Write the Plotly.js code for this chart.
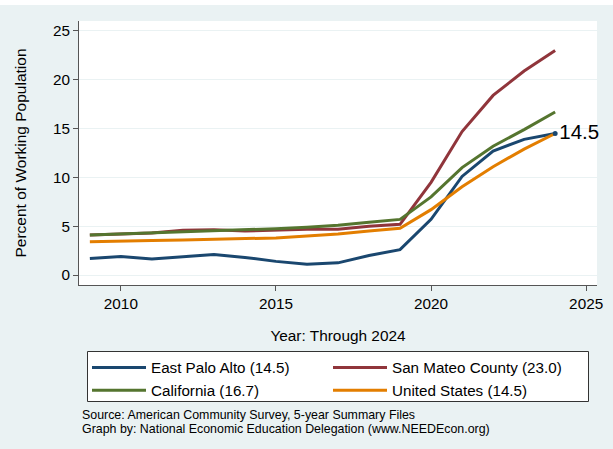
<!DOCTYPE html>
<html>
<head>
<meta charset="utf-8">
<script src="https://cdn.plot.ly/plotly-3.0.1.min.js"></script>
<style>html,body{margin:0;padding:0;background:#eaf2f3;}#chart{width:613px;height:449px;}</style>
</head>
<body>
<div id="chart"></div>
<script>
const years = [2009,2010,2011,2012,2013,2014,2015,2016,2017,2018,2019,2020,2021,2022,2023,2024];
const eastPaloAlto = [1.7,1.9,1.65,1.9,2.1,1.8,1.4,1.1,1.25,2.0,2.6,5.7,10.1,12.7,13.9,14.5];
const sanMateo = [4.1,4.2,4.3,4.6,4.65,4.5,4.6,4.7,4.7,5.0,5.2,9.5,14.7,18.4,20.9,23.0];
const california = [4.1,4.2,4.3,4.4,4.5,4.6,4.75,4.9,5.1,5.4,5.7,8.0,11.0,13.2,14.9,16.7];
const unitedStates = [3.4,3.5,3.55,3.6,3.65,3.7,3.8,4.0,4.2,4.5,4.8,6.7,9.05,11.1,12.9,14.5];
const seriesNames = ["East Palo Alto (14.5)","San Mateo County (23.0)","California (16.7)","United States (14.5)"];
const xTicks = [2010,2015,2020,2025];
const yTicks = [0,5,10,15,20,25];
const sourceLines = ["Source: American Community Survey, 5-year Summary Files","Graph by: National Economic Education Delegation (www.NEEDEcon.org)"];

const font = "Liberation Sans, Arial, Helvetica, sans-serif";
const last = years.length - 1;

const traces = [
  {x: years, y: eastPaloAlto, name: seriesNames[0], mode: "lines", line: {color: "#1a476f", width: 3}},
  {x: years, y: sanMateo, name: seriesNames[1], mode: "lines", line: {color: "#90353b", width: 3}},
  {x: years, y: california, name: seriesNames[2], mode: "lines", line: {color: "#55752f", width: 3}},
  {x: years, y: unitedStates, name: seriesNames[3], mode: "lines", line: {color: "#e37e00", width: 3}},
  {x: [years[last]], y: [eastPaloAlto[last]], mode: "markers+text", showlegend: false, cliponaxis: false,
   marker: {size: 5, color: "#1a476f"}, text: [eastPaloAlto[last].toFixed(1)],
   textposition: "middle right", textfont: {family: font, size: 20.5, color: "#000"}}
];

const W = 518, H = 264, L = 79, B = 285;
const px = v => (v - L) / W;
const py = v => (B - v) / H;

const layout = {
  width: 613, height: 449,
  margin: {l: 79, r: 16, t: 21, b: 164, autoexpand: false},
  paper_bgcolor: "#eaf2f3", plot_bgcolor: "#ffffff",
  font: {family: font, size: 15, color: "#000"},
  showlegend: true,
  xaxis: {range: [2008.65, 2025.35], tickvals: xTicks, ticktext: xTicks.map(String),
    showgrid: false, zeroline: false, showline: true, linecolor: "#555", linewidth: 1,
    ticks: "outside", ticklen: 5, tickcolor: "#555", tickfont: {size: 15.3},
    title: {text: "Year: Through 2024", font: {size: 15.4}, standoff: 18}, automargin: false},
  yaxis: {range: [-1.02, 26.02], tickvals: yTicks, ticktext: yTicks.map(String),
    showgrid: true, gridcolor: "#eaf2f3", gridwidth: 1, zeroline: false,
    showline: true, linecolor: "#555", linewidth: 1,
    ticks: "outside", ticklen: 5, tickcolor: "#555", tickfont: {size: 15.3},
    title: {text: "Percent of Working Population", font: {size: 15.5}, standoff: 22}, automargin: false},
  legend: {orientation: "h", x: px(87), xanchor: "left", y: py(351), yanchor: "top",
    bgcolor: "rgba(0,0,0,0)", borderwidth: 0,
    font: {size: 15.2}, entrywidth: 172, entrywidthmode: "pixels", itemwidth: 54,
    traceorder: "normal"},
  annotations: [
    {xref: "paper", yref: "paper", x: px(80), y: py(414.5), xanchor: "left", yanchor: "middle",
     text: sourceLines[0], showarrow: false, font: {size: 12.4}},
    {xref: "paper", yref: "paper", x: px(80), y: py(428.5), xanchor: "left", yanchor: "middle",
     text: sourceLines[1], showarrow: false, font: {size: 12.4}}
  ],
  shapes: [
    {type: "rect", xref: "paper", yref: "paper", x0: px(0), x1: px(613), y0: py(5), y1: py(0),
     fillcolor: "#ffffff", line: {width: 0}, layer: "above"},
    {type: "rect", xref: "paper", yref: "paper", x0: px(87.5), x1: px(588.5), y0: py(401.5), y1: py(351.5),
     fillcolor: "#ffffff", line: {width: 1, color: "#333"}, layer: "above"}
  ]
};

Plotly.newPlot("chart", traces, layout, {displayModeBar: false, staticPlot: true});
</script>
</body>
</html>
